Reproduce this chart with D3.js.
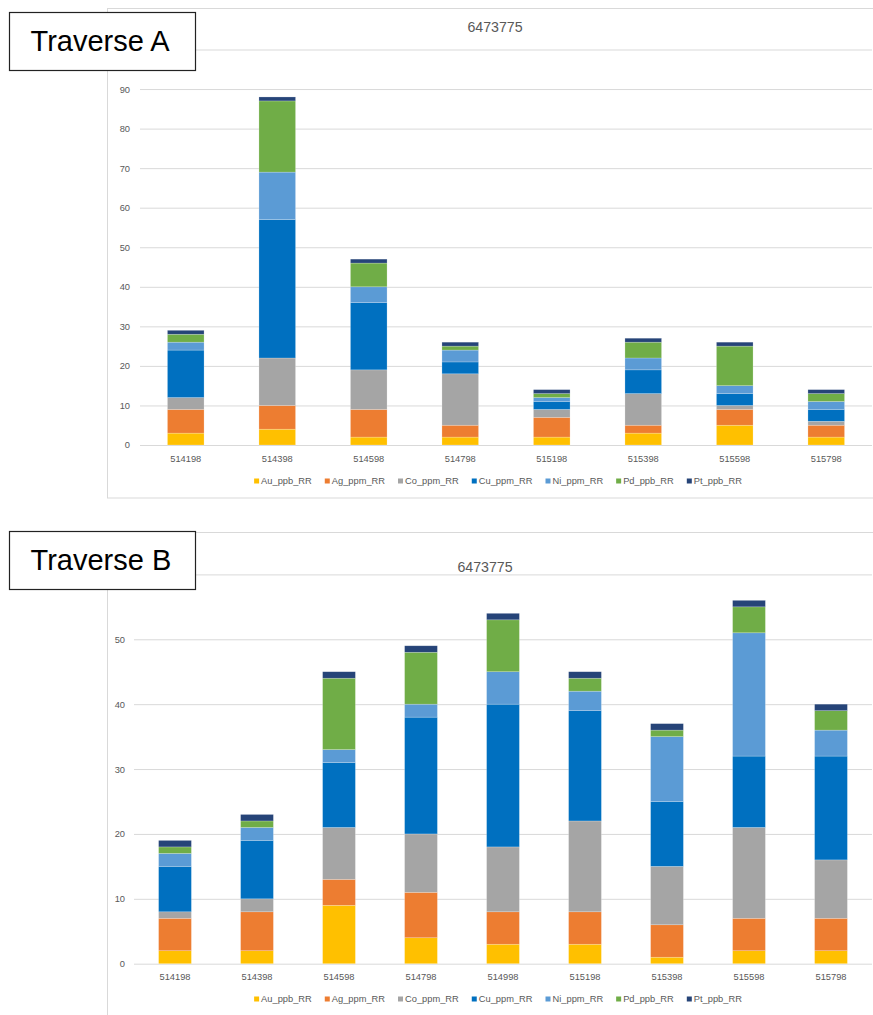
<!DOCTYPE html>
<html>
<head>
<meta charset="utf-8">
<script src="https://cdn.jsdelivr.net/npm/d3@7"></script>
<style>
  body { margin: 0; background: #fff; }
  svg { display: block; font-family: "Liberation Sans", Arial, sans-serif; }
</style>
</head>
<body>
<svg id="chart" width="873" height="1015"></svg>
<script>
// series names + excel office colours
var seriesNames = ["Au_ppb_RR", "Ag_ppm_RR", "Co_ppm_RR", "Cu_ppm_RR", "Ni_ppm_RR", "Pd_ppb_RR", "Pt_ppb_RR"];
var seriesColors = ["#FFC000", "#ED7D31", "#A5A5A5", "#0070C0", "#5B9BD5", "#70AD47", "#264478"];

// Traverse A
var catsA = ["514198", "514398", "514598", "514798", "515198", "515398", "515598", "515798"];
var auA = [3, 4, 2, 2, 2, 3, 5, 2];
var agA = [6, 6, 7, 3, 5, 2, 4, 3];
var coA = [3, 12, 10, 13, 2, 8, 1, 1];
var cuA = [12, 35, 17, 3, 2, 6, 3, 3];
var niA = [2, 12, 4, 3, 1, 3, 2, 2];
var pdA = [2, 18, 6, 1, 1, 4, 10, 2];
var ptA = [1, 1, 1, 1, 1, 1, 1, 1];

// Traverse B
var catsB = ["514198", "514398", "514598", "514798", "514998", "515198", "515398", "515598", "515798"];
var auB = [2, 2, 9, 4, 3, 3, 1, 2, 2];
var agB = [5, 6, 4, 7, 5, 5, 5, 5, 5];
var coB = [1, 2, 8, 9, 10, 14, 9, 14, 9];
var cuB = [7, 9, 10, 18, 22, 17, 10, 11, 16];
var niB = [2, 2, 2, 2, 5, 3, 10, 19, 4];
var pdB = [1, 1, 11, 8, 8, 2, 1, 4, 3];
var ptB = [1, 1, 1, 1, 1, 1, 1, 1, 1];

var yTicksA = d3.range(0, 101, 10);
var yTicksB = d3.range(0, 61, 10);

var svg = d3.select("#chart");

function drawChart(o) {
  var g = svg.append("g");

  // rows for the stack
  var rows = o.cats.map(function(c, i) {
    var r = {cat: c};
    seriesNames.forEach(function(s, j) { r[s] = o.series[j][i]; });
    return r;
  });
  var stacked = d3.stack().keys(seriesNames)(rows);

  var x = d3.scaleBand().domain(o.cats).range([o.left, o.right]).paddingInner(0.6).paddingOuter(0.3);
  var y = d3.scaleLinear().domain([0, o.ymax]).range([o.bottom, o.top]);

  // chart frame
  g.append("rect")
    .attr("x", o.frame[0]).attr("y", o.frame[1])
    .attr("width", o.frame[2]).attr("height", o.frame[3])
    .attr("fill", "none").attr("stroke", "#d9d9d9");

  // gridlines + y labels (top label sits under the traverse box, so not drawn)
  var ya = g.append("g")
    .attr("transform", "translate(" + o.left + ",0)")
    .call(d3.axisLeft(y).tickValues(o.yTicks).tickSize(-(o.right - o.left)).tickPadding(o.left - o.labelX)
      .tickFormat(function(d) { return d === o.ymax ? "" : d; }));
  ya.select(".domain").remove();
  ya.selectAll("line").attr("stroke", "#d9d9d9");
  ya.selectAll("text").attr("fill", "#595959").style("font-size", "9.3px");

  // bars
  g.selectAll("g.series")
    .data(stacked)
    .enter().append("g")
    .attr("fill", function(d, i) { return seriesColors[i]; })
    .selectAll("rect")
    .data(function(d) { return d; })
    .enter().append("rect")
    .attr("x", function(d) { return x(d.data.cat); })
    .attr("width", x.bandwidth())
    .attr("y", function(d) { return y(d[1]); })
    .attr("height", function(d) { return y(d[0]) - y(d[1]); })
    .attr("stroke", "rgba(255,255,255,0.35)")
    .attr("stroke-width", 0.6);

  // x labels
  var xa = g.append("g")
    .attr("transform", "translate(0," + o.bottom + ")")
    .call(d3.axisBottom(x).tickSize(0).tickPadding(10));
  xa.select(".domain").remove();
  xa.selectAll("text").attr("fill", "#595959").style("font-size", "9.3px");

  // title
  g.append("text")
    .attr("x", o.titleX).attr("y", o.titleY)
    .attr("text-anchor", "middle")
    .attr("fill", "#595959")
    .style("font-size", "14.2px")
    .text("6473775");

  // legend
  var lg = g.append("g");
  var cx = 0;
  seriesNames.forEach(function(s, i) {
    lg.append("rect")
      .attr("x", cx).attr("y", o.legendY - 2.5)
      .attr("width", 5).attr("height", 5)
      .attr("fill", seriesColors[i]);
    var t = lg.append("text")
      .attr("x", cx + 7).attr("y", o.legendY + 3.3)
      .attr("fill", "#595959")
      .style("font-size", "9.3px")
      .text(s);
    cx += 7 + t.node().getComputedTextLength() + 13;
  });
  lg.attr("transform", "translate(" + (o.legendX - (cx - 13) / 2) + ",0)");

  // traverse label box
  g.append("rect")
    .attr("x", o.box[0]).attr("y", o.box[1])
    .attr("width", o.box[2]).attr("height", o.box[3])
    .attr("fill", "#fff").attr("stroke", "#222").attr("stroke-width", 1.2);
  g.append("text")
    .attr("x", o.box[0] + 21).attr("y", o.box[1] + 38.5)
    .attr("fill", "#000")
    .style("font-size", "29px")
    .text(o.label);
}

drawChart({
  cats: catsA,
  series: [auA, agA, coA, cuA, niA, pdA, ptA],
  ymax: 100, yTicks: yTicksA,
  left: 140, right: 872, top: 49.5, bottom: 445, labelX: 130,
  frame: [107.5, 8.5, 780, 489.5],
  titleX: 495, titleY: 32.3,
  legendX: 498, legendY: 481,
  box: [9.5, 12.5, 186, 58],
  label: "Traverse A"
});

drawChart({
  cats: catsB,
  series: [auB, agB, coB, cuB, niB, pdB, ptB],
  ymax: 60, yTicks: yTicksB,
  left: 134, right: 872, top: 574.4, bottom: 963.7, labelX: 125,
  frame: [107.5, 532.5, 780, 500],
  titleX: 485, titleY: 572,
  legendX: 498, legendY: 999,
  box: [9.5, 531.5, 186, 58],
  label: "Traverse B"
});
</script>
</body>
</html>
